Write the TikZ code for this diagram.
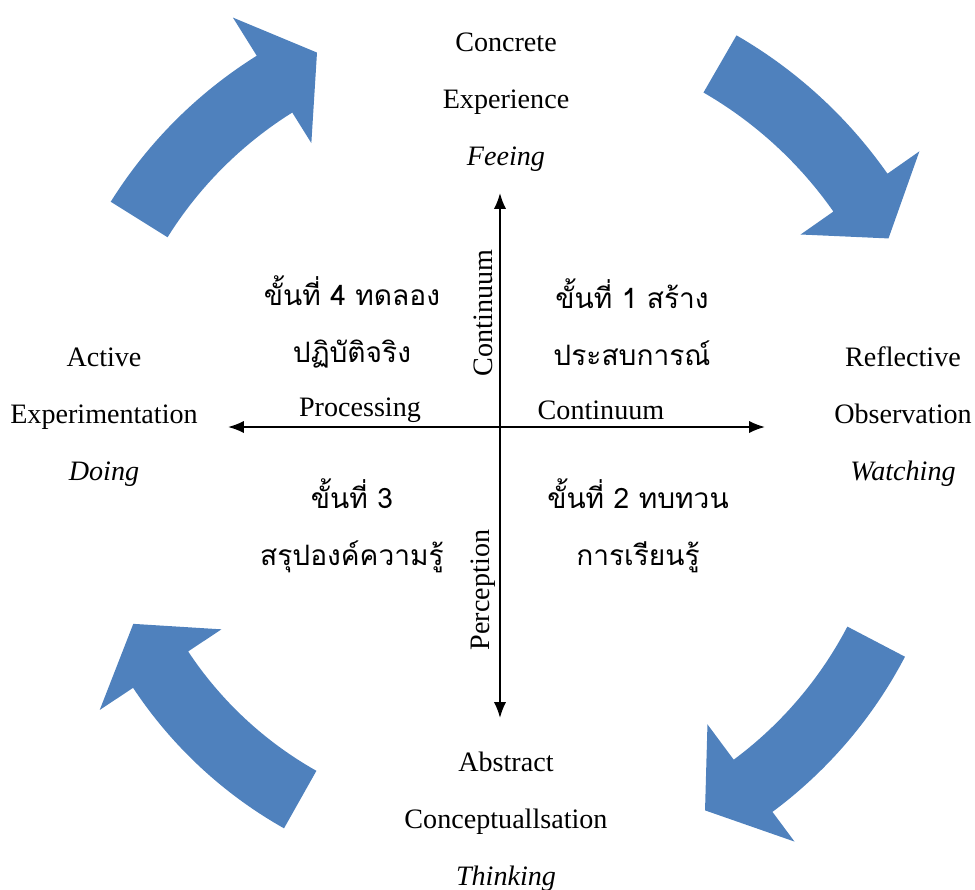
\documentclass[tikz,border=0pt]{standalone}
\usepackage{fontspec}
\setmainfont{Liberation Serif}
\newfontfamily\thaifont[Script=Thai]{Loma}
\usepackage{tikz}
\usetikzlibrary{arrows.meta, positioning}
\definecolor{cycleblue}{HTML}{4F81BD}

\begin{document}
\begin{tikzpicture}[
  mode/.style={align=center, font=\fontsize{16}{32.4}\selectfont},
  quadrant/.style={align=center, font=\thaifont\fontsize{16}{32.4}\selectfont},
  axislbl/.style={font=\fontsize{16}{19}\selectfont, inner sep=1pt},
  axis/.style={{Latex[length=9pt,width=7pt]}-{Latex[length=9pt,width=7pt]},
               line width=1.1pt},
  cyclearr/.style={fill=cycleblue},
]
\useasboundingbox (-10,-8.9) rectangle (9.5,8.9);

%% Curved cycle arrows (tail / join / tip angle, radii)
\foreach \tail/\join/\tip/\rin/\rout/\rtip/\bin/\bout in {
    148/122/115/7.84/9.18/8.66/7.12/10.08,
    60/35/28/8.14/9.46/8.8/7.34/10.24,
    -27.6/-53.4/-60.7/7.84/9.14/8.38/6.96/9.88,
    240.6/213.5/206/7.48/8.8/8.16/6.68/9.6}
  \fill[cyclearr] (\tail:\rout) arc[start angle=\tail, end angle=\join, radius=\rout]
    -- (\join:\bout) -- (\tip:\rtip) -- (\join:\bin) -- (\join:\rin)
    arc[start angle=\join, end angle=\tail, radius=\rin] -- cycle;

%% Axes
\coordinate (top)    at (0,5.04);
\coordinate (bottom) at (0,-5.46);
\coordinate (left)   at (-5.44,0.36);
\coordinate (right)  at (5.3,0.36);
\draw[axis] (left) -- (right);
\draw[axis] (top) -- (bottom);

%% Learning modes
\node[mode] (CE) at (0.12,6.86)  {Concrete\\Experience\\\textit{Feeing}};
\node[mode] (RO) at (8.06,0.56)  {Reflective\\Observation\\\textit{Watching}};
\node[mode] (AC) at (0.12,-7.54) {Abstract\\Conceptuallsation\\\textit{Thinking}};
\node[mode] (AE) at (-7.92,0.56) {Active\\Experimentation\\\textit{Doing}};

%% Stages
\node[quadrant] (S1) at (2.64,2.46)   {ขั้นที่ 1 สร้าง\\ประสบการณ์};
\node[quadrant] (S2) at (2.76,-1.62)  {ขั้นที่ 2 ทบทวน\\การเรียนรู้};
\node[quadrant] (S3) at (-2.96,-1.62) {ขั้นที่ 3\\สรุปองค์ความรู้};
\node[quadrant] (S4) at (-2.96,2.46)  {ขั้นที่ 4 ทดลอง\\ปฏิบัติจริง};

%% Axis labels
\node[axislbl] (proc) at (-2.8,0.7) {Processing};
\node[axislbl] (cont) at (2.02,0.7) {Continuum};
\node[axislbl, rotate=90] (vcont) at (-0.34,2.64) {Continuum};
\node[axislbl, rotate=90] (perc)  at (-0.34,-2.9) {Perception};

\end{tikzpicture}
\end{document}
